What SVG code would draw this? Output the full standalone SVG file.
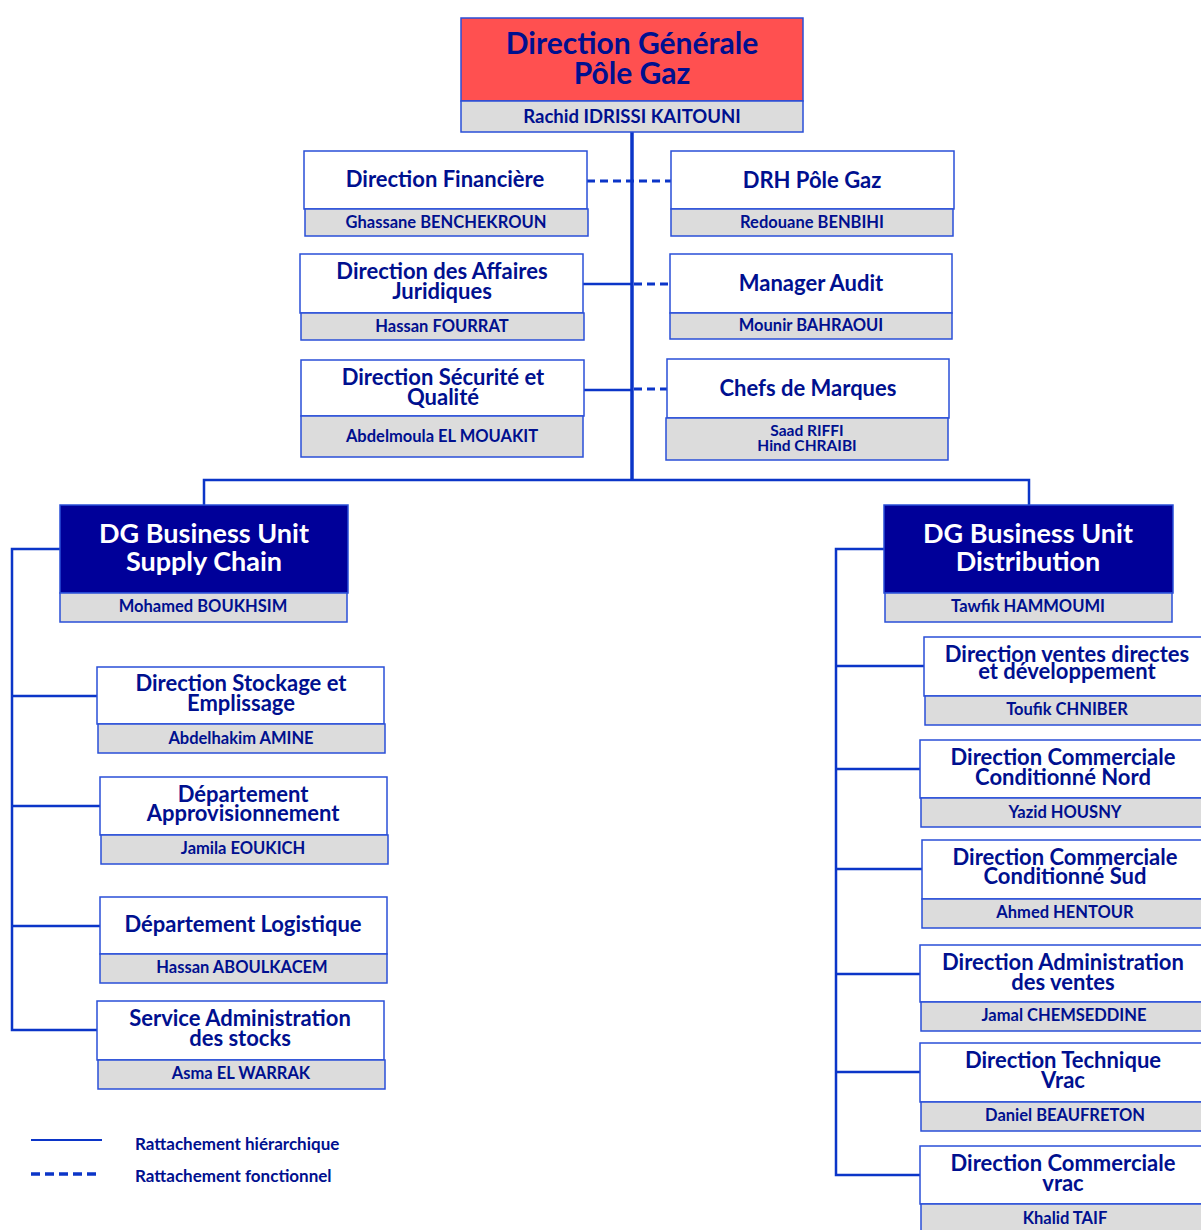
<svg xmlns="http://www.w3.org/2000/svg" width="1201" height="1230" viewBox="0 0 1201 1230">
<style>
text{font-family:Lato,"Open Sans","Liberation Sans",sans-serif;font-weight:bold;text-anchor:middle;fill:#00108F}
.box{fill:#fff;stroke:#2A4FD8;stroke-width:1.5}
.nm{fill:#DCDCDC;stroke:#2A4FD8;stroke-width:1.5}
.dk{fill:#000099;stroke:#2A4FD8;stroke-width:1.5}
.t{font-size:22px}
.n{font-size:16.5px}
.s{font-size:15.5px}
.w{fill:#fff;font-size:27px}
.h{fill:none;stroke:#0B35C8;stroke-width:2.5}
.d{fill:none;stroke:#0B35C8;stroke-width:3;stroke-dasharray:8,5}
.lg{font-size:17px;text-anchor:start}
</style>
<g id="connectors">
<path class="h" d="M632 132V480" style="stroke-width:3.5"/>
<path class="h" d="M204 505V480H1029V505"/>
<path class="d" d="M587 181H671"/>
<path class="h" d="M583 284H632"/>
<path class="d" d="M634 284H670"/>
<path class="h" d="M584 390H632"/>
<path class="d" d="M634 389H667"/>
<path class="h" d="M60 549H12V1030H97M12 696H97M12 806H100M12 926H100"/>
<path class="h" d="M884 549H836V1175H920M836 666H924M836 769H920M836 869H922M836 974H920M836 1072H920"/>
</g>
<g id="dg">
<rect x="461" y="18" width="342" height="83" fill="#FF5050" stroke="#2A4FD8" stroke-width="1.5"/>
<rect class="nm" x="461" y="101" width="342" height="31"/>
<text x="632" y="54" style="font-size:30px">Direction Générale</text>
<text x="632" y="84" style="font-size:30px">Pôle Gaz</text>
<text x="632" y="123" style="font-size:18.5px">Rachid IDRISSI KAITOUNI</text>
</g>
<g id="fin">
<rect class="box" x="304" y="151" width="283" height="58"/>
<rect class="nm" x="305" y="209" width="283" height="27"/>
<text class="t" x="445" y="187">Direction Financière</text>
<text class="n" x="446" y="228">Ghassane BENCHEKROUN</text>
</g>
<g id="drh">
<rect class="box" x="671" y="151" width="283" height="58"/>
<rect class="nm" x="671" y="209" width="282" height="27"/>
<text class="t" x="812" y="188">DRH Pôle Gaz</text>
<text class="n" x="812" y="228">Redouane BENBIHI</text>
</g>
<g id="jur">
<rect class="box" x="300" y="254" width="283" height="59"/>
<rect class="nm" x="301" y="313" width="283" height="27"/>
<text class="t" x="442" y="279">Direction des Affaires</text>
<text class="t" x="442" y="299">Juridiques</text>
<text class="n" x="442" y="332">Hassan FOURRAT</text>
</g>
<g id="audit">
<rect class="box" x="670" y="254" width="282" height="59"/>
<rect class="nm" x="670" y="313" width="282" height="26"/>
<text class="t" x="811" y="291">Manager Audit</text>
<text class="n" x="811" y="331">Mounir BAHRAOUI</text>
</g>
<g id="secu">
<rect class="box" x="301" y="360" width="283" height="56"/>
<rect class="nm" x="301" y="416" width="282" height="41"/>
<text class="t" x="443" y="385">Direction Sécurité et</text>
<text class="t" x="443" y="405">Qualité</text>
<text class="n" x="442" y="442">Abdelmoula EL MOUAKIT</text>
</g>
<g id="marques">
<rect class="box" x="667" y="359" width="282" height="59"/>
<rect class="nm" x="666" y="418" width="282" height="42"/>
<text class="t" x="808" y="396">Chefs de Marques</text>
<text class="s" x="807" y="436">Saad RIFFI</text>
<text class="s" x="807" y="451">Hind CHRAIBI</text>
</g>
<g id="bu-sc">
<rect class="dk" x="60" y="505" width="288" height="88"/>
<rect class="nm" x="60" y="593" width="287" height="29"/>
<text class="w" x="204" y="543">DG Business Unit</text>
<text class="w" x="204" y="571">Supply Chain</text>
<text class="n" x="203" y="612">Mohamed BOUKHSIM</text>
</g>
<g id="stockage">
<rect class="box" x="97" y="667" width="287" height="57"/>
<rect class="nm" x="98" y="724" width="287" height="29"/>
<text class="t" x="241" y="691">Direction Stockage et</text>
<text class="t" x="241" y="711">Emplissage</text>
<text class="n" x="241" y="744">Abdelhakim AMINE</text>
</g>
<g id="appro">
<rect class="box" x="100" y="777" width="287" height="58"/>
<rect class="nm" x="101" y="835" width="287" height="29"/>
<text class="t" x="243" y="802">Département</text>
<text class="t" x="243" y="821">Approvisionnement</text>
<text class="n" x="243" y="854">Jamila EOUKICH</text>
</g>
<g id="logistique">
<rect class="box" x="100" y="897" width="287" height="57"/>
<rect class="nm" x="100" y="954" width="287" height="29"/>
<text class="t" x="243" y="932">Département Logistique</text>
<text class="n" x="242" y="973">Hassan ABOULKACEM</text>
</g>
<g id="stocks">
<rect class="box" x="97" y="1001" width="287" height="59"/>
<rect class="nm" x="98" y="1060" width="287" height="29"/>
<text class="t" x="240" y="1026">Service Administration</text>
<text class="t" x="240" y="1046">des stocks</text>
<text class="n" x="241" y="1079">Asma EL WARRAK</text>
</g>
<g id="bu-dist">
<rect class="dk" x="884" y="505" width="289" height="88"/>
<rect class="nm" x="885" y="593" width="287" height="29"/>
<text class="w" x="1028" y="543">DG Business Unit</text>
<text class="w" x="1028" y="571">Distribution</text>
<text class="n" x="1028" y="612">Tawfik HAMMOUMI</text>
</g>
<g id="ventes-directes">
<rect class="box" x="924" y="637" width="290" height="59"/>
<rect class="nm" x="925" y="696" width="290" height="29"/>
<text class="t" x="1067" y="662">Direction ventes directes</text>
<text class="t" x="1067" y="679">et développement</text>
<text class="n" x="1067" y="715">Toufik CHNIBER</text>
</g>
<g id="nord">
<rect class="box" x="920" y="740" width="290" height="58"/>
<rect class="nm" x="921" y="798" width="290" height="29"/>
<text class="t" x="1063" y="765">Direction Commerciale</text>
<text class="t" x="1063" y="785">Conditionné Nord</text>
<text class="n" x="1065" y="818">Yazid HOUSNY</text>
</g>
<g id="sud">
<rect class="box" x="922" y="840" width="290" height="59"/>
<rect class="nm" x="922" y="899" width="290" height="29"/>
<text class="t" x="1065" y="865">Direction Commerciale</text>
<text class="t" x="1065" y="884">Conditionné Sud</text>
<text class="n" x="1065" y="918">Ahmed HENTOUR</text>
</g>
<g id="adv">
<rect class="box" x="920" y="945" width="290" height="57"/>
<rect class="nm" x="921" y="1002" width="290" height="29"/>
<text class="t" x="1063" y="970">Direction Administration</text>
<text class="t" x="1063" y="990">des ventes</text>
<text class="n" x="1064" y="1021">Jamal CHEMSEDDINE</text>
</g>
<g id="technique">
<rect class="box" x="920" y="1043" width="290" height="59"/>
<rect class="nm" x="921" y="1102" width="290" height="29"/>
<text class="t" x="1063" y="1068">Direction Technique</text>
<text class="t" x="1063" y="1088">Vrac</text>
<text class="n" x="1065" y="1121">Daniel BEAUFRETON</text>
</g>
<g id="vrac">
<rect class="box" x="920" y="1146" width="290" height="58"/>
<rect class="nm" x="921" y="1204" width="290" height="30"/>
<text class="t" x="1063" y="1171">Direction Commerciale</text>
<text class="t" x="1063" y="1191">vrac</text>
<text class="n" x="1065" y="1224">Khalid TAIF</text>
</g>
<g id="legend">
<path class="h" d="M31 1140H102" style="stroke-width:2"/>
<path class="d" d="M31 1174H96" style="stroke-width:3.5;stroke-dasharray:9,5"/>
<text class="lg" x="135" y="1150">Rattachement hiérarchique</text>
<text class="lg" x="135" y="1182">Rattachement fonctionnel</text>
</g>
</svg>
